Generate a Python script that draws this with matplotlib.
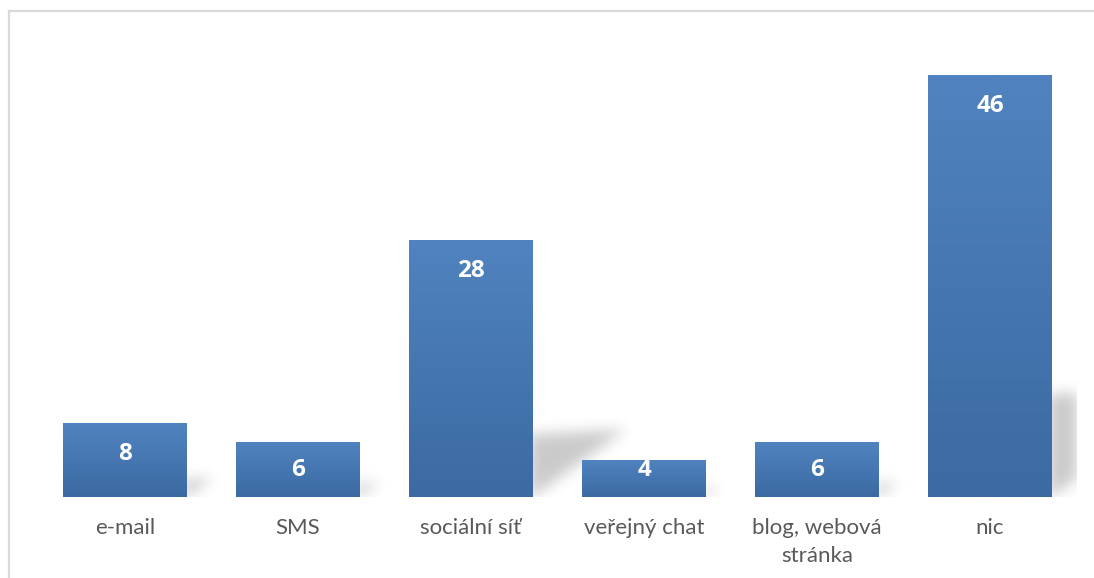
import numpy as np
import matplotlib
matplotlib.use("Agg")
import matplotlib.pyplot as plt
from matplotlib.lines import Line2D

categories = ["e-mail", "SMS", "sociální síť", "veřejný chat", "blog, webová\nstránka", "nic"]
values = [8, 6, 28, 4, 6, 46]

W_PX, H_PX = 1094, 578
fig = plt.figure(figsize=(W_PX / 100, H_PX / 100), dpi=100)
fig.patch.set_facecolor("white")

ax_left, ax_w = 38.5, 1038.0
base_px = 497.0
ppu = 421.0 / 46.0
ymax = 50
ax_h = ymax * ppu
ax = fig.add_axes([ax_left / W_PX, (H_PX - base_px) / H_PX, ax_w / W_PX, ax_h / H_PX])
ax.set_xlim(-0.5, len(categories) - 0.5)
ax.set_ylim(0, ymax)
for s in ax.spines.values():
    s.set_visible(False)
ax.set_yticks([])
ax.set_facecolor("none")

bar_w = 124.0 / 173.0
x = np.arange(len(categories))

# --- shadows (rasterised, blurred) ---
Wr, Hr = int(ax_w), int(round(ax_h))
gx = np.arange(Wr)[None, :] + 0.5
gy = np.arange(Hr)[:, None] + 0.5  # from bottom
mask = np.zeros((Hr, Wr))
for i, v in enumerate(values):
    xr = (i + 0.5 + bar_w / 2) * 173.0 - 1
    hp = v * ppu
    T = 0.26 * hp
    L = 0.36 * hp
    inside = (gx >= xr - 3) & (gy <= T * (1 + 0.08 * (gx - xr) / max(L, 1)) - 0.06 * T) & (gy >= (gx - xr) * T / L)
    mask[inside] = 1.0
sigma = 7.0
k = np.arange(-24, 25)
kern = np.exp(-k ** 2 / (2 * sigma ** 2))
kern /= kern.sum()
pad = 24
m = np.pad(mask, pad)
m = np.apply_along_axis(lambda r: np.convolve(r, kern, mode="same"), 1, m)
m = np.apply_along_axis(lambda c: np.convolve(c, kern, mode="same"), 0, m)
m = m[pad:-pad, pad:-pad]
rgba = np.zeros((Hr, Wr, 4))
rgba[..., 3] = 0.21 * m
ax.imshow(rgba[::-1], extent=(-0.5, len(categories) - 0.5, 0, Hr / ppu), aspect="auto",
          zorder=1, interpolation="bilinear")

# --- gradient bars ---
top_c = np.array([80, 131, 191]) / 255.0
bot_c = np.array([60, 106, 162]) / 255.0
t = np.linspace(0, 1, 128)[:, None]
grad = (top_c[None, :] * (1 - t) + bot_c[None, :] * t)[:, None, :]
for i, v in enumerate(values):
    ax.imshow(grad, extent=(i - bar_w / 2, i + bar_w / 2, 0, v), aspect="auto", zorder=2,
              interpolation="bilinear")
    off_px = min(30.0, v * ppu - 27.0)
    ax.annotate(str(v), xy=(i, v), xytext=(0, -off_px * 0.72), textcoords="offset points",
                ha="center", va="center", color="white", fontsize=17.5, fontweight="bold",
                family="Open Sans", zorder=3)
ax.set_xlim(-0.5, len(categories) - 0.5)
ax.set_ylim(0, ymax)

ax.set_xticks(x)
ax.set_xticklabels(categories, fontsize=16, color="#595959", family="Lato", linespacing=1.5)
ax.tick_params(axis="x", length=0, pad=15)

# --- chart border ---
bc = "#D9D9D9"
fig.add_artist(Line2D([8.5 / W_PX, 1.0], [1 - 10.5 / H_PX, 1 - 10.5 / H_PX], transform=fig.transFigure, color=bc, lw=1.6))
fig.add_artist(Line2D([8.5 / W_PX, 8.5 / W_PX], [0, 1 - 10.5 / H_PX], transform=fig.transFigure, color=bc, lw=1.6))

fig.savefig("out.png", dpi=100, facecolor="white")
